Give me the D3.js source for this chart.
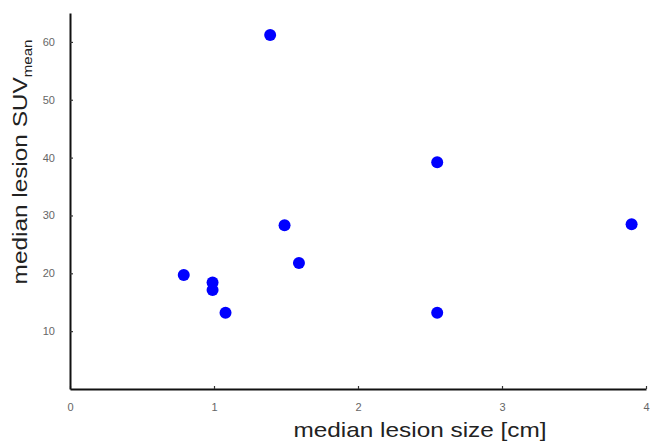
<!DOCTYPE html>
<html>
<head>
<meta charset="utf-8">
<script src="https://cdn.jsdelivr.net/npm/d3@7"></script>
<style>
  body { margin: 0; background: #fff; }
  svg { display: block; font-family: 'Liberation Sans', Arial, sans-serif; }
  .axis path { stroke: #111; stroke-width: 2; }
  .axis line { stroke: #333; stroke-width: 1.2; }
  .axis text { fill: #666; font-size: 11px; }
</style>
</head>
<body>
<div id="chart"></div>
<script>
// lesion size [cm] vs SUVmean
let sizes = [1.39, 2.55, 1.49, 1.59, 0.79, 0.99, 0.99, 1.08, 2.55, 3.9]
let suvMean = [61.2, 39.2, 28.3, 21.8, 19.7, 18.4, 17.1, 13.2, 13.2, 28.5]
let xTicks = [0, 1, 2, 3, 4]
let yTicks = [10, 20, 30, 40, 50, 60]

let margin = { top: 13, left: 70, right: 10, bottom: 53 }
let height = 442 - margin.top - margin.bottom

let svg = d3
  .select('#chart')
  .append('svg')
  .attr('width', 656)
  .attr('height', 442)
  .append('g')
  .attr('transform', 'translate(' + margin.left + ',' + margin.top + ')')

let xPositionScale = d3.scaleLinear().domain([0, 4]).range([0, 576])
let yPositionScale = d3.scaleLinear().domain([0, 65]).range([height, 0])

let xAxis = d3
  .axisBottom(xPositionScale)
  .tickValues(xTicks)
  .tickFormat(d3.format('d'))
  .tickSizeInner(-3)
  .tickSizeOuter(0)
  .tickPadding(14)
svg
  .append('g')
  .attr('class', 'axis x-axis')
  .attr('transform', 'translate(0,' + height + ')')
  .call(xAxis)

let yAxis = d3
  .axisLeft(yPositionScale)
  .tickValues(yTicks)
  .tickSizeInner(-3)
  .tickSizeOuter(0)
  .tickPadding(15)
svg
  .append('g')
  .attr('class', 'axis y-axis')
  .call(yAxis)

let points = sizes.map((s, i) => ({ size: s, suv: suvMean[i] }))

svg
  .selectAll('.dot')
  .data(points)
  .enter()
  .append('circle')
  .attr('class', 'dot')
  .attr('cx', d => xPositionScale(d.size))
  .attr('cy', d => yPositionScale(d.suv))
  .attr('r', 6)
  .attr('fill', '#0000ff')

// titles are a bit wider than the font, so stretch them
svg
  .append('text')
  .attr('transform', 'translate(350,' + (height + 48) + ') scale(1.16,1)')
  .attr('text-anchor', 'middle')
  .attr('font-size', 21)
  .attr('fill', '#222')
  .text('median lesion size [cm]')

let yTitle = svg
  .append('text')
  .attr('transform', 'translate(-43,' + 149 + ') rotate(-90) scale(1.16,1)')
  .attr('text-anchor', 'middle')
  .attr('font-size', 21)
  .attr('fill', '#222')
yTitle.append('tspan').text('median lesion SUV')
yTitle
  .append('tspan')
  .attr('font-size', 13)
  .attr('dy', 5)
  .text('mean')
</script>
</body>
</html>
